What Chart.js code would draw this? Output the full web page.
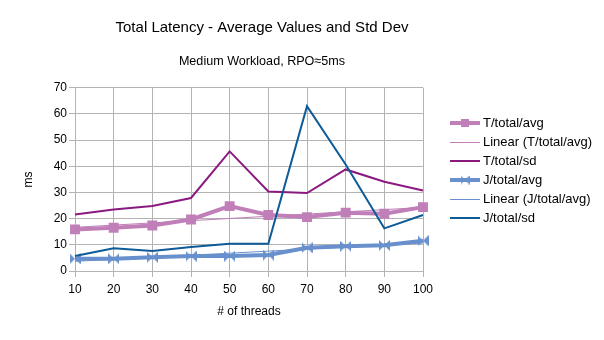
<!DOCTYPE html>
<html>
<head>
<meta charset="utf-8">
<script src="https://cdn.jsdelivr.net/npm/chart.js@4/dist/chart.umd.min.js"></script>
<style>
  html, body { margin: 0; padding: 0; background: #fff; }
  #wrap { width: 604px; height: 340px; }
</style>
</head>
<body>
<div id="wrap"><canvas id="chart" width="604" height="340"></canvas></div>
<script>
// values
const threads = [10, 20, 30, 40, 50, 60, 70, 80, 90, 100];
const tAvg = [15.9, 16.5, 17.4, 19.7, 24.8, 21.4, 20.6, 22.3, 21.9, 24.4];
const tSd = [21.6, 23.5, 24.8, 27.9, 45.7, 30.4, 29.8, 38.8, 34.1, 30.8];
const jAvg = [4.7, 4.7, 5.3, 5.7, 5.7, 6.1, 8.9, 9.5, 9.8, 11.6];
const jSd = [5.7, 8.7, 7.6, 9.2, 10.4, 10.4, 63.0, 40.7, 16.3, 21.4];
// trend lines: start and end values (at 10 and 100 threads)
const tTrend = [16.7, 24.3];
const jTrend = [3.7, 10.7];
const yMax = 70;

const FONT = "'Liberation Sans', Arial, sans-serif";
const PINK = "#c07fb8";
const PURPLE = "#8b1a80";
const LIGHTBLUE = "#6890cc";
const DARKBLUE = "#0d5b97";

// bowtie marker used by the J series
function bowtie(size, color) {
  const c = document.createElement("canvas");
  c.width = size; c.height = size;
  const g = c.getContext("2d");
  g.fillStyle = color;
  g.beginPath();
  g.moveTo(0, 0); g.lineTo(size / 2, size / 2); g.lineTo(0, size); g.closePath();
  g.moveTo(size, 0); g.lineTo(size / 2, size / 2); g.lineTo(size, size); g.closePath();
  g.fill();
  return c;
}

// a trend line only has its two ends, spanGaps joins them
function ends(pair) {
  return threads.map((t, i) => i === 0 ? pair[0] : (i === threads.length - 1 ? pair[1] : null));
}

const jMarker = bowtie(11, LIGHTBLUE);

const datasets = [
  { label: "T/total/avg", data: tAvg, borderColor: PINK, backgroundColor: PINK, borderWidth: 4,
    pointStyle: "rect", pointRadius: 7, pointBackgroundColor: PINK, pointBorderWidth: 0, legendMarker: "rect" },
  { label: "Linear (T/total/avg)", data: ends(tTrend), borderColor: PINK, borderWidth: 1,
    pointRadius: 0, spanGaps: true },
  { label: "T/total/sd", data: tSd, borderColor: PURPLE, borderWidth: 2, pointRadius: 0 },
  { label: "J/total/avg", data: jAvg, borderColor: LIGHTBLUE, backgroundColor: LIGHTBLUE, borderWidth: 4,
    pointStyle: jMarker, pointRadius: 6, legendMarker: "bowtie" },
  { label: "Linear (J/total/avg)", data: ends(jTrend), borderColor: LIGHTBLUE, borderWidth: 1,
    pointRadius: 0, spanGaps: true },
  { label: "J/total/sd", data: jSd, borderColor: DARKBLUE, borderWidth: 2, pointRadius: 0 }
];
// later series on top, like the original
datasets.forEach((d, i) => { d.order = datasets.length - i; d.tension = 0; d.fill = false; });

// legend drawn on the right side
const sideLegend = {
  id: "sideLegend",
  afterDraw(chart) {
    const ctx = chart.ctx;
    const x0 = 450, x1 = 480, tx = 483, y0 = 123.3, step = 19;
    ctx.save();
    chart.data.datasets.forEach((d, i) => {
      const y = y0 + i * step;
      const ly = d.borderWidth % 2 ? Math.round(y) + 0.5 : Math.round(y);
      ctx.strokeStyle = d.borderColor;
      ctx.lineWidth = d.borderWidth;
      ctx.beginPath();
      ctx.moveTo(x0, ly); ctx.lineTo(x1, ly);
      ctx.stroke();
      const cx = (x0 + x1) / 2;
      if (d.legendMarker === "rect") {
        ctx.fillStyle = d.borderColor;
        ctx.fillRect(cx - 4, ly - 4, 8, 8);
      } else if (d.legendMarker === "bowtie") {
        ctx.drawImage(bowtie(9, d.borderColor), cx - 4.5, ly - 4.5);
      }
      ctx.fillStyle = "#000";
      ctx.font = "13px " + FONT;
      ctx.textBaseline = "middle";
      ctx.textAlign = "left";
      ctx.fillText(d.label, tx, y);
    });
    ctx.restore();
  }
};

new Chart(document.getElementById("chart"), {
  type: "line",
  data: { labels: threads, datasets },
  options: {
    responsive: false,
    animation: false,
    devicePixelRatio: 1,
    layout: { padding: { left: 0, right: 80, top: 0, bottom: 0 } },
    plugins: {
      legend: { display: false },
      tooltip: { enabled: false },
      title: {
        display: true,
        text: "Total Latency - Average Values and Std Dev",
        color: "#000",
        font: { family: FONT, size: 15, weight: "normal" },
        padding: { top: 19, bottom: 17 }
      },
      subtitle: {
        display: true,
        text: "Medium Workload, RPO≈5ms",
        color: "#000",
        font: { family: FONT, size: 12.6, weight: "normal" },
        padding: { top: 0, bottom: 18.7 }
      }
    },
    scales: {
      x: {
        type: "category",
        offset: false,
        grid: { color: "#b3b3b3", tickColor: "#b3b3b3", tickLength: 6, offset: false },
        border: { color: "#b3b3b3" },
        ticks: { color: "#000", font: { family: FONT, size: 12 }, padding: 5, maxRotation: 0, autoSkip: false },
        title: { display: true, text: "# of threads", color: "#000",
                 font: { family: FONT, size: 12 }, padding: { top: 21, bottom: 21 } },
        afterFit(scale) { scale.height = 69; }
      },
      y: {
        min: 0, max: yMax,
        grid: {
          color: c => (c.tick && c.tick.value % 10 === 0) ? "#b3b3b3" : "#dedede",
          tickColor: c => (c.tick && c.tick.value % 10 === 0) ? "#b3b3b3" : "rgba(0,0,0,0)",
          tickLength: 6
        },
        border: { color: "#b3b3b3" },
        ticks: {
          stepSize: 5, color: "#000", font: { family: FONT, size: 12 }, padding: 2,
          callback: v => v % 10 === 0 ? v : ""
        },
        title: { display: true, text: "ms", color: "#000",
                 font: { family: FONT, size: 12 }, padding: { top: 21, bottom: 21 } },
        afterFit(scale) { scale.width = 75; }
      },
      // empty right box keeps room for the legend
      yRight: {
        type: "linear",
        position: "right",
        grid: { display: false },
        border: { display: false },
        ticks: { display: false },
        afterFit(scale) { scale.width = 101; }
      }
    }
  },
  plugins: [sideLegend]
});
</script>
</body>
</html>
